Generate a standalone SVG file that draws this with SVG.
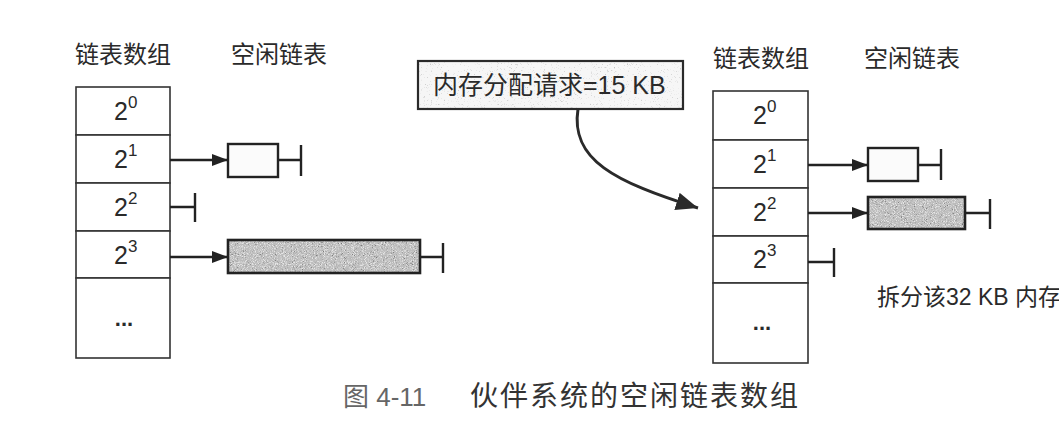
<svg xmlns="http://www.w3.org/2000/svg" width="1059" height="442" viewBox="0 0 1059 442">
  <style>
    text { font-family: "Liberation Sans", "Noto Sans CJK SC", sans-serif; fill: #2a2a2a; }
    .head { font-size: 24px; }
    .base { font-size: 25px; }
    .sup { font-size: 17px; }
    .dots { font-size: 22px; font-weight: bold; }
    .cell { fill: #fff; stroke: #333; stroke-width: 1.6; }
    .link { fill: none; stroke: #222; stroke-width: 2.4; }
    .arrow { marker-end: url(#head); }
    .empty { fill: #fbfbfb; stroke: #222; stroke-width: 2.4; }
    .full { fill: #bdbdbd; }
    .frame { fill: none; stroke: #222; stroke-width: 2.6; }
  </style>
  <defs>
    <marker id="head" viewBox="0 0 16 12" refX="16" refY="6" markerWidth="16" markerHeight="12" markerUnits="userSpaceOnUse" orient="auto">
      <path d="M0,0 L16,6 L0,12 Z" fill="#222"/>
    </marker>
    <marker id="bighead" viewBox="0 0 22 18" refX="22" refY="9" markerWidth="22" markerHeight="18" markerUnits="userSpaceOnUse" orient="auto">
      <path d="M0,0 L22,9 L0,18 Z" fill="#2a2a2a"/>
    </marker>
    <!-- speckled halftone texture for the shaded blocks -->
    <filter id="grain" x="0" y="0" width="100%" height="100%" color-interpolation-filters="sRGB">
      <feTurbulence type="fractalNoise" baseFrequency="1.1" numOctaves="2" seed="7" result="n"/>
      <feColorMatrix in="n" type="matrix" values="0 0 0 0 0.45  0 0 0 0 0.45  0 0 0 0 0.45  4 0 0 0 -2.3" result="dark"/>
      <feColorMatrix in="n" type="matrix" values="0 0 0 0 0.9  0 0 0 0 0.9  0 0 0 0 0.9  0 -4 0 0 2.1" result="light"/>
      <feComposite in="dark" in2="SourceGraphic" operator="atop" result="a"/>
      <feComposite in="light" in2="a" operator="atop"/>
    </filter>
    <!-- faint speckle for the request label -->
    <filter id="stipple" x="0" y="0" width="100%" height="100%" color-interpolation-filters="sRGB">
      <feTurbulence type="fractalNoise" baseFrequency="1.3" numOctaves="1" seed="3" result="n"/>
      <feColorMatrix in="n" type="matrix" values="0 0 0 0 0.7  0 0 0 0 0.7  0 0 0 0 0.7  4 0 0 0 -2.5" result="dark"/>
      <feComposite in="dark" in2="SourceGraphic" operator="atop"/>
    </filter>
  </defs>

  <!-- left: free-list array before the request -->
  <g id="left-headings">
    <text class="head" x="75" y="63">链表数组</text>
    <text class="head" x="231" y="63">空闲链表</text>
  </g>
  <g id="left-array">
    <rect class="cell" x="76" y="87" width="94" height="48"/>
    <rect class="cell" x="76" y="135" width="94" height="48"/>
    <rect class="cell" x="76" y="183" width="94" height="48"/>
    <rect class="cell" x="76" y="231" width="94" height="47"/>
    <rect class="cell" x="76" y="278" width="94" height="80"/>
    <text x="114" y="120"><tspan class="base">2</tspan><tspan class="sup" dy="-12">0</tspan></text>
    <text x="114" y="168"><tspan class="base">2</tspan><tspan class="sup" dy="-12">1</tspan></text>
    <text x="114" y="216"><tspan class="base">2</tspan><tspan class="sup" dy="-12">2</tspan></text>
    <text x="114" y="264"><tspan class="base">2</tspan><tspan class="sup" dy="-12">3</tspan></text>
    <text class="dots" x="124" y="326" text-anchor="middle">...</text>
  </g>
  <g id="left-block-2k">
    <rect class="empty" x="228" y="144" width="50" height="33"/>
  </g>
  <g id="left-block-8k">
    <rect class="full" x="228" y="240" width="192" height="33" filter="url(#grain)"/>
    <rect class="frame" x="228" y="240" width="192" height="33"/>
  </g>

  <!-- request label -->
  <g id="request">
    <rect x="418" y="61" width="265" height="48" fill="#f6f6f6" filter="url(#stipple)"/>
    <rect x="418" y="61" width="265" height="48" fill="none" stroke="#2a2a2a" stroke-width="2.2"/>
    <text x="433" y="94" style="font-size:25px">内存分配请求=15 KB</text>
  </g>

  <!-- right: free-list array after the split -->
  <g id="right-headings">
    <text class="head" x="713" y="67">链表数组</text>
    <text class="head" x="864" y="67">空闲链表</text>
  </g>
  <g id="right-array">
    <rect class="cell" x="713" y="91" width="95" height="49"/>
    <rect class="cell" x="713" y="140" width="95" height="48"/>
    <rect class="cell" x="713" y="188" width="95" height="48"/>
    <rect class="cell" x="713" y="236" width="95" height="47"/>
    <rect class="cell" x="713" y="283" width="95" height="80"/>
    <text x="753" y="124"><tspan class="base">2</tspan><tspan class="sup" dy="-12">0</tspan></text>
    <text x="753" y="173"><tspan class="base">2</tspan><tspan class="sup" dy="-12">1</tspan></text>
    <text x="753" y="221"><tspan class="base">2</tspan><tspan class="sup" dy="-12">2</tspan></text>
    <text x="753" y="268"><tspan class="base">2</tspan><tspan class="sup" dy="-12">3</tspan></text>
    <text class="dots" x="762" y="330" text-anchor="middle">...</text>
  </g>
  <g id="right-block-2k">
    <rect class="empty" x="868" y="148" width="50" height="33"/>
  </g>
  <g id="right-block-4k">
    <rect class="full" x="868" y="197" width="97" height="32" filter="url(#grain)"/>
    <rect class="frame" x="868" y="197" width="97" height="32"/>
  </g>
  <g id="split-note">
    <text x="877" y="305" style="font-size:23px">拆分该32 KB 内存</text>
  </g>

  <!-- connectors: list pointers, null terminators, request arrow -->
  <g id="connectors">
    <line class="link arrow" x1="170" y1="160" x2="228" y2="160"/>
    <path class="link" d="M278,160 H301 M301,145 V176"/>
    <path class="link" d="M170,207 H195 M195,193 V222"/>
    <line class="link arrow" x1="170" y1="257" x2="228" y2="257"/>
    <path class="link" d="M420,257 H443 M443,243 V273"/>

    <line class="link arrow" x1="808" y1="165" x2="868" y2="165"/>
    <path class="link" d="M918,165 H941 M941,149 V180"/>
    <line class="link arrow" x1="808" y1="213" x2="868" y2="213"/>
    <path class="link" d="M965,213 H990 M990,199 V229"/>
    <path class="link" d="M808,262 H834 M834,248 V277"/>

    <path d="M578,109 C570,160 615,182 698,208" fill="none" stroke="#2a2a2a" stroke-width="3" marker-end="url(#bighead)"/>
  </g>

  <!-- caption -->
  <g id="caption">
    <text x="343" y="406" style="font-size:26px;fill:#666">图 4-11</text>
    <text x="470" y="406" style="font-size:28px;letter-spacing:2px;fill:#333">伙伴系统的空闲链表数组</text>
  </g>
</svg>
